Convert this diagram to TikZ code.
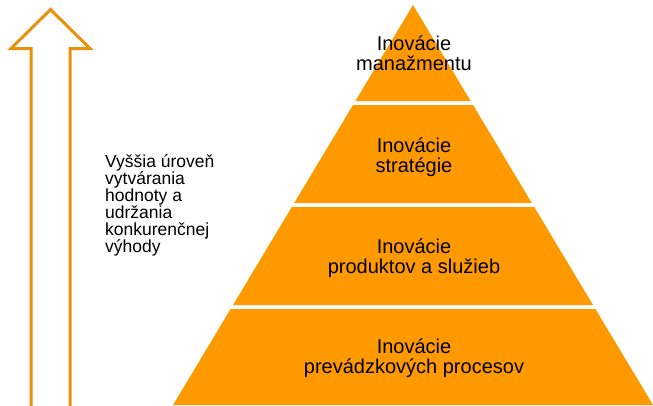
\documentclass[tikz,border=0pt]{standalone}
\usepackage{fontspec}
\setmainfont{Liberation Sans}
\definecolor{tierfill}{RGB}{255,153,0}
\definecolor{arrowline}{RGB}{232,145,10}
\begin{document}
\begin{tikzpicture}[x=1pt,y=-1pt,
  tier/.style={fill=tierfill,draw=none},
  tierlabel/.style={align=center,anchor=base,inner sep=0pt,font=\fontsize{20}{20}\selectfont},
  sidelabel/.style={align=left,anchor=base west,inner sep=0pt,font=\fontsize{17.5}{17}\selectfont},
  uparrow/.style={draw=arrowline,line width=3pt,line join=miter,fill=none}]
\useasboundingbox (0,0) rectangle (653,405);
% arrow
\draw[uparrow] (31,408) -- (31,48.5) -- (11,48.5) -- (50.5,9.5) -- (90,48.5) -- (70,48.5) -- (70,408);
% pyramid tiers
\fill[tier] (413,5) -- (470.6,101) -- (355.4,101) -- cycle;
\fill[tier] (353,105) -- (473,105) -- (531.8,203) -- (294.2,203) -- cycle;
\fill[tier] (291.8,207) -- (534.2,207) -- (593,305) -- (233,305) -- cycle;
\fill[tier] (230.6,309) -- (595.4,309) -- (653,405) -- (173,405) -- cycle;
% labels
\node[tierlabel] (t1) at (414,70) {Inovácie\\manažmentu};
\node[tierlabel] (t2) at (414,172) {Inovácie\\stratégie};
\node[tierlabel] (t3) at (414,273) {Inovácie\\produktov a služieb};
\node[tierlabel] (t4) at (414,373) {Inovácie\\prevádzkových procesov};
\node[sidelabel] (side) at (105,252) {Vyššia úroveň\\vytvárania\\hodnoty a\\udržania\\konkurenčnej\\výhody};
\end{tikzpicture}
\end{document}
